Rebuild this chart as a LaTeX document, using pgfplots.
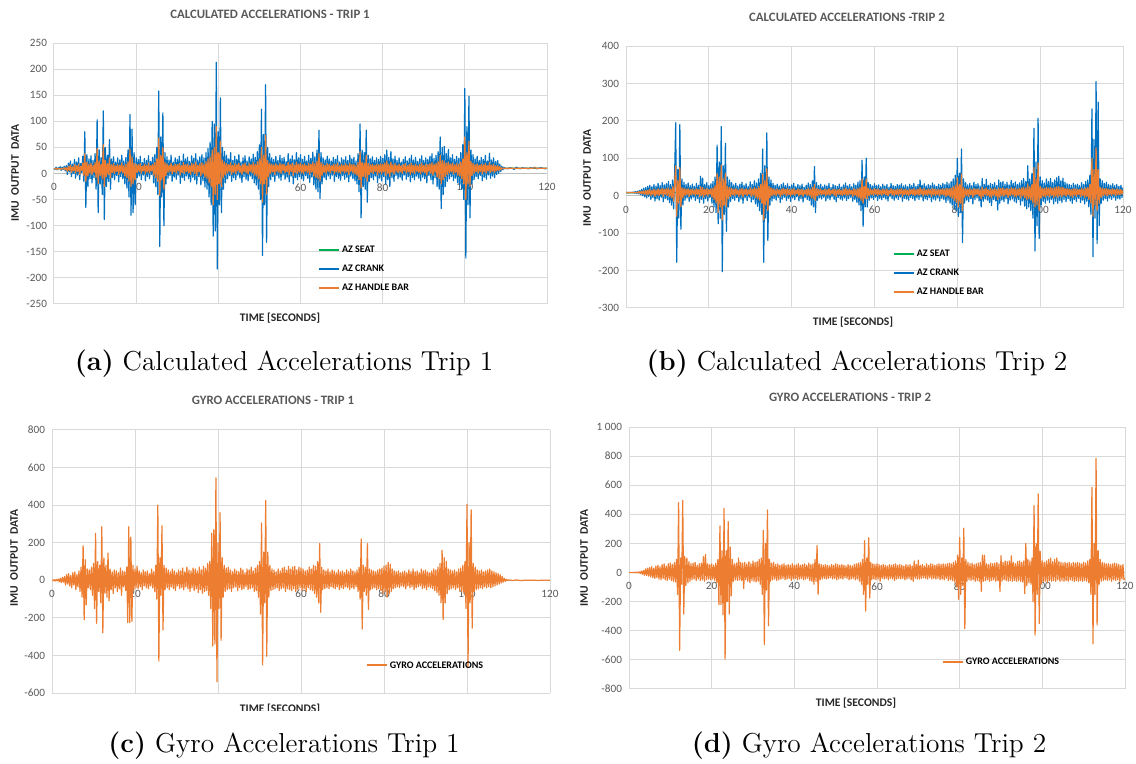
\documentclass[border=0pt]{standalone}
\usepackage{fontspec}
\usepackage{pgfplots}
\usepackage{pgfplotstable}
\pgfplotsset{compat=1.18}
\newfontfamily\carlito{Carlito}
\definecolor{xlblue}{HTML}{0070C0}
\definecolor{xlorange}{HTML}{ED7D31}
\definecolor{xlgreen}{HTML}{00B050}
\definecolor{gridgray}{HTML}{D9D9D9}
\definecolor{axisgray}{HTML}{BFBFBF}
\definecolor{tickgray}{HTML}{595959}

\pgfplotstableread{
t c h
0 10 9
0.25 8 9
0.5 12 10
0.75 7 8
1 11 10
1.25 9 9
1.5 13 10
1.75 6 8
2 12 10
2.25 8 9
2.5 14 11
2.75 5 7
3 15 11
3.25 -2 4
3.5 20 14
3.75 3 6
4 24 16
4.25 -6 2
4.5 18 13
4.75 0 5
5 27 17
5.25 -9 1
5.5 22 15
5.75 -3 4
6 30 18
6.25 -12 -2
6.5 19 14
6.75 2 6
7 33 20
7.25 -15 -4
7.5 80 38
7.75 -65 -15
8 36 22
8.25 -25 -5
8.5 28 18
8.75 -10 0
9 34 20
9.25 -18 -3
9.5 25 16
9.75 -8 2
10 38 21
10.25 -30 -8
10.5 103 48
10.75 -75 -20
11 45 24
11.25 -20 -4
11.5 30 18
11.75 -40 -10
12 120 55
12.25 -88 -25
12.5 50 25
12.75 -25 -6
13 35 19
13.25 -15 -2
13.5 65 30
13.75 -30 -8
14 28 17
14.25 -8 2
14.5 32 19
14.75 -12 0
15 22 15
15.25 -4 4
15.5 30 18
15.75 -16 -2
16 26 16
16.25 -6 3
16.5 35 20
16.75 -10 1
17 24 15
17.25 -20 -5
17.5 31 18
17.75 -28 -8
18 45 22
18.25 -45 -15
18.5 113 47
18.75 -80 -25
19 85 32
19.25 -75 -20
19.5 40 20
19.75 -60 -12
20 30 18
20.25 -8 2
20.5 27 17
20.75 -5 4
21 33 19
21.25 -12 0
21.5 21 14
21.75 -3 5
22 29 18
22.25 -14 -1
22.5 25 16
22.75 -6 3
23 34 20
23.25 -10 1
23.5 23 15
23.75 -2 5
24 31 18
24.25 -18 -3
24.5 36 21
24.75 -25 -8
25 50 28
25.25 -40 -15
25.5 158 68
25.75 -140 -42
26 70 35
26.25 -45 -12
26.5 116 50
26.75 -100 -30
27 40 22
27.25 -20 -4
27.5 32 19
27.75 -9 2
28 26 16
28.25 -4 4
28.5 35 20
28.75 -15 -1
29 22 15
29.25 -7 3
29.5 30 18
29.75 -11 1
30 27 17
30.25 -3 5
30.5 33 19
30.75 -19 -3
31 24 15
31.25 -8 2
31.5 37 21
31.75 -13 0
32 28 17
32.25 -5 4
32.5 31 18
32.75 -10 1
33 23 15
33.25 -16 -2
33.5 34 20
33.75 -7 3
34 29 18
34.25 -12 0
34.5 38 22
34.75 -20 -4
35 26 16
35.25 -6 3
35.5 32 19
35.75 -22 -5
36 36 21
36.25 -14 -1
36.5 30 18
36.75 -26 -7
37 40 23
37.25 -30 -10
37.5 48 28
37.75 -45 -18
38 60 32
38.25 -60 -25
38.5 100 45
38.75 -120 -60
39 95 50
39.25 -110 -40
39.5 213 90
39.75 -183 -50
40 80 40
40.25 -60 -20
40.5 145 62
40.75 -75 -25
41 50 26
41.25 -30 -8
41.5 42 22
41.75 -18 -3
42 35 19
42.25 -10 1
42.5 28 17
42.75 -4 4
43 40 21
43.25 -15 -2
43.5 25 16
43.75 -8 2
44 33 19
44.25 -12 0
44.5 27 17
44.75 -3 5
45 36 20
45.25 -9 2
45.5 22 15
45.75 -17 -2
46 30 18
46.25 -6 3
46.5 34 20
46.75 -11 1
47 24 15
47.25 -14 -1
47.5 32 19
47.75 -5 4
48 28 17
48.25 -10 1
48.5 37 21
48.75 -18 -3
49 31 18
49.25 -22 -5
49.5 42 23
49.75 -30 -10
50 55 28
50.25 -50 -20
50.5 123 50
50.75 -157 -55
51 75 35
51.25 -60 -20
51.5 170 73
51.75 -132 -40
52 50 25
52.25 -25 -6
52.5 38 20
52.75 -12 0
53 30 18
53.25 -6 3
53.5 27 17
53.75 -15 -2
54 33 19
54.25 -4 4
54.5 25 16
54.75 -9 2
55 35 20
55.25 -13 0
55.5 29 18
55.75 -3 5
56 31 18
56.25 -11 1
56.5 23 15
56.75 -7 3
57 38 21
57.25 -16 -2
57.5 28 17
57.75 -5 4
58 34 20
58.25 -20 -4
58.5 26 16
58.75 -8 2
59 40 22
59.25 -12 0
59.5 30 18
59.75 -6 3
60 36 20
60.25 -10 1
60.5 27 17
60.75 -14 -1
61 33 19
61.25 -4 4
61.5 24 15
61.75 -9 2
62 35 20
62.25 -17 -2
62.5 29 18
62.75 -7 3
63 41 22
63.25 -22 -5
63.5 32 19
63.75 -30 -8
64 45 24
64.25 -35 -10
64.5 83 38
64.75 -48 -15
65 40 21
65.25 -20 -4
65.5 30 18
65.75 -8 2
66 26 16
66.25 -12 0
66.5 33 19
66.75 -5 4
67 28 17
67.25 -10 1
67.5 24 15
67.75 -3 5
68 31 18
68.25 -15 -1
68.5 27 17
68.75 -6 3
69 34 20
69.25 -9 2
69.5 22 15
69.75 -13 0
70 30 18
70.25 -4 4
70.5 26 16
70.75 -11 1
71 32 19
71.25 -7 3
71.5 25 16
71.75 -16 -2
72 35 20
72.25 -5 4
72.5 28 17
72.75 -10 1
73 31 18
73.25 -14 -1
73.5 24 15
73.75 -20 -4
74 38 21
74.25 -35 -12
74.5 95 42
74.75 -85 -28
75 45 22
75.25 -25 -6
75.5 40 20
75.75 -30 -8
76 83 35
76.25 -55 -15
76.5 35 19
76.75 -15 -2
77 28 17
77.25 -8 2
77.5 32 18
77.75 -12 0
78 25 16
78.25 -5 4
78.5 30 18
78.75 -18 -3
79 27 17
79.25 -9 2
79.5 33 19
79.75 -14 -1
80 29 18
80.25 -6 3
80.5 36 20
80.75 -20 -4
81 45 24
81.25 -12 0
81.5 31 18
81.75 -25 -6
82 42 22
82.25 -8 2
82.5 28 17
82.75 -15 -2
83 33 19
83.25 -4 4
83.5 25 16
83.75 -10 1
84 30 18
84.25 -7 3
84.5 22 15
84.75 -13 0
85 27 17
85.25 -3 5
85.5 32 19
85.75 -11 1
86 24 15
86.25 -6 3
86.5 29 18
86.75 -16 -2
87 35 20
87.25 -8 2
87.5 26 16
87.75 -12 0
88 31 18
88.25 -5 4
88.5 23 15
88.75 -9 2
89 28 17
89.25 -14 -1
89.5 34 20
89.75 -7 3
90 25 16
90.25 -10 1
90.5 30 18
90.75 -18 -3
91 27 17
91.25 -4 4
91.5 33 19
91.75 -12 0
92 38 21
92.25 -20 -4
92.5 29 18
92.75 -8 2
93 35 20
93.25 -25 -7
93.5 42 23
93.75 -30 -10
94 70 35
94.25 -67 -20
94.5 50 25
94.75 -40 -12
95 52 24
95.25 -25 -6
95.5 38 20
95.75 -15 -2
96 46 22
96.25 -10 1
96.5 30 18
96.75 -6 3
97 36 20
97.25 -14 -1
97.5 27 17
97.75 -9 2
98 33 19
98.25 -18 -3
98.5 29 18
98.75 -22 -5
99 40 22
99.25 -30 -10
99.5 55 28
99.75 -50 -20
100 163 70
100.25 -162 -50
100.5 90 40
100.75 -60 -20
101 148 62
101.25 -85 -25
101.5 45 23
101.75 -20 -4
102 36 20
102.25 -12 0
102.5 28 17
102.75 -6 3
103 33 19
103.25 -10 1
103.5 25 16
103.75 -4 4
104 31 18
104.25 -14 -1
104.5 27 17
104.75 -7 3
105 35 20
105.25 -11 1
105.5 24 15
105.75 -3 5
106 39 21
106.25 -9 2
106.5 26 16
106.75 -5 4
107 30 18
107.25 -8 2
107.5 23 15
107.75 -2 5
108 25 15
108.25 0 6
108.5 18 13
108.75 4 7
109 14 11
109.25 7 9
109.5 12 10
109.75 9 10
110 10 10
110.5 9 10
111 11 10
111.5 10 10
112 8 10
112.5 12 10
113 10 10
113.5 9 10
114 11 10
114.5 10 10
115 10 10
115.5 9 10
116 11 10
116.5 10 10
117 12 11
117.5 9 10
118 10 10
118.5 11 10
119 10 10
119.5 9 10
120 10 10
}\tabA

\pgfplotstableread{
t s
0 9
10 9
20 10
30 9
40 10
50 9
60 10
70 9
80 10
90 9
100 10
110 10
120 10
}\seatA

\pgfplotstableread{
t c h
0 8 8
0.25 9 9
0.5 8 8
0.75 9 9
1 8 8
1.25 9 9
1.5 8 8
1.75 10 9
2 7 8
2.25 11 9
2.5 6 8
2.75 12 10
3 5 7
3.25 14 11
3.5 3 6
3.75 17 12
4 0 5
4.25 20 13
4.5 -3 4
4.75 22 14
5 -6 2
5.25 25 15
5.5 -2 4
5.75 28 17
6 -10 0
6.25 24 15
6.5 -5 3
6.75 30 18
7 -14 -2
7.25 26 16
7.5 -8 2
7.75 33 19
8 -12 0
8.25 27 17
8.5 -4 4
8.75 35 20
9 -16 -2
9.25 29 18
9.5 -7 3
9.75 32 19
10 -11 1
10.25 38 21
10.5 -18 -3
10.75 30 18
11 -25 -6
11.25 42 24
11.5 -35 -15
11.75 60 35
12 195 80
12.25 -178 -55
12.5 70 40
12.75 -60 -20
13 190 75
13.25 -90 -30
13.5 45 22
13.75 -25 -6
14 36 20
14.25 -12 0
14.5 30 18
14.75 -6 3
15 34 19
15.25 -15 -2
15.5 27 17
15.75 -9 2
16 31 18
16.25 -4 4
16.5 25 16
16.75 -13 0
17 33 19
17.25 -7 3
17.5 28 17
17.75 -18 -3
18 52 24
18.25 -10 1
18.5 47 22
18.75 -20 -4
19 30 18
19.25 -8 2
19.5 35 20
19.75 -14 -1
20 27 17
20.25 -5 4
20.5 32 19
20.75 -20 -4
21 38 21
21.25 -30 -10
21.5 50 28
21.75 -45 -20
22 135 60
22.25 -75 -45
22.5 90 50
22.75 -60 -30
23 185 82
23.25 -203 -65
23.5 80 45
23.75 -50 -25
24 140 60
24.25 -95 -30
24.5 50 25
24.75 -30 -8
25 42 22
25.25 -15 -2
25.5 35 20
25.75 -8 2
26 29 18
26.25 -12 0
26.5 33 19
26.75 -5 4
27 26 16
27.25 -16 -2
27.5 31 18
27.75 -9 2
28 36 20
28.25 -20 -4
28.5 28 17
28.75 -6 3
29 32 19
29.25 -13 0
29.5 25 16
29.75 -4 4
30 37 21
30.25 -17 -2
30.5 30 18
30.75 -10 1
31 40 22
31.25 -22 -5
31.5 34 20
31.75 -28 -8
32 45 24
32.25 -40 -12
32.5 60 30
32.75 -50 -20
33 125 58
33.25 -178 -65
33.5 80 40
33.75 -60 -25
34 168 72
34.25 -120 -40
34.5 50 25
34.75 -25 -6
35 42 22
35.25 -14 -1
35.5 33 19
35.75 -8 2
36 28 17
36.25 -12 0
36.5 31 18
36.75 -5 4
37 26 16
37.25 -18 -3
37.5 30 18
37.75 -9 2
38 34 20
38.25 -4 4
38.5 27 17
38.75 -13 0
39 32 19
39.25 -7 3
39.5 25 16
39.75 -15 -2
40 29 18
40.25 -6 3
40.5 33 19
40.75 -11 1
41 24 15
41.25 -3 5
41.5 30 18
41.75 -14 -1
42 27 17
42.25 -8 2
42.5 31 18
42.75 -17 -2
43 23 15
43.25 -5 4
43.5 28 17
43.75 -10 1
44 34 20
44.25 -13 0
44.5 30 18
44.75 -25 -6
45 40 22
45.25 -30 -8
45.5 78 30
45.75 -45 -12
46 35 19
46.25 -12 0
46.5 27 17
46.75 -6 3
47 31 18
47.25 -9 2
47.5 24 15
47.75 -4 4
48 29 18
48.25 -14 -1
48.5 26 16
48.75 -7 3
49 33 19
49.25 -11 1
49.5 22 15
49.75 -3 5
50 30 18
50.25 -10 1
50.5 27 17
50.75 -16 -2
51 25 16
51.25 -5 4
51.5 31 18
51.75 -9 2
52 23 15
52.25 -12 0
52.5 29 18
52.75 -6 3
53 34 20
53.25 -13 0
53.5 26 16
53.75 -8 2
54 30 18
54.25 -4 4
54.5 24 15
54.75 -15 -2
55 32 19
55.25 -10 1
55.5 28 17
55.75 -18 -3
56 36 20
56.25 -25 -6
56.5 40 22
56.75 -40 -12
57 95 45
57.25 -82 -20
57.5 50 25
57.75 -30 -8
58 100 45
58.25 -30 -8
58.5 35 19
58.75 -12 0
59 30 18
59.25 -6 3
59.5 26 16
59.75 -10 1
60 32 19
60.25 -4 4
60.5 27 17
60.75 -13 0
61 29 18
61.25 -7 3
61.5 24 15
61.75 -11 1
62 31 18
62.25 -5 4
62.5 26 16
62.75 -9 2
63 30 18
63.25 -14 -1
63.5 23 15
63.75 -3 5
64 33 19
64.25 -8 2
64.5 27 17
64.75 -12 0
65 25 16
65.25 -6 3
65.5 30 18
65.75 -10 1
66 28 17
66.25 -4 4
66.5 32 19
66.75 -15 -2
67 26 16
67.25 -7 3
67.5 29 18
67.75 -9 2
68 24 15
68.25 -12 0
68.5 31 18
68.75 -5 4
69 27 17
69.25 -8 2
69.5 33 19
69.75 -13 0
70 25 16
70.25 -6 3
70.5 30 18
70.75 -10 1
71 42 22
71.25 -4 4
71.5 28 17
71.75 -14 -1
72 32 19
72.25 -8 2
72.5 26 16
72.75 -11 1
73 30 18
73.25 -5 4
73.5 27 17
73.75 -16 -2
74 34 20
74.25 -9 2
74.5 29 18
74.75 -12 0
75 25 16
75.25 -6 3
75.5 31 18
75.75 -14 -1
76 28 17
76.25 -7 3
76.5 33 19
76.75 -10 1
77 30 18
77.25 -18 -3
77.5 36 20
77.75 -12 0
78 32 19
78.25 -20 -4
78.5 38 21
78.75 -25 -7
79 45 24
79.25 -35 -12
79.5 55 28
79.75 -40 -18
80 100 48
80.25 -55 -30
80.5 60 30
80.75 -45 -20
81 125 58
81.25 -125 -40
81.5 45 22
81.75 -20 -4
82 35 19
82.25 -12 0
82.5 29 18
82.75 -16 -2
83 33 19
83.25 -8 2
83.5 27 17
83.75 -22 -5
84 36 20
84.25 -10 1
84.5 30 18
84.75 -6 3
85 32 19
85.25 -14 -1
85.5 26 16
85.75 -30 -8
86 46 23
86.25 -15 -2
86.5 30 18
86.75 -9 2
87 44 21
87.25 -12 0
87.5 28 17
87.75 -18 -3
88 33 19
88.25 -26 -6
88.5 30 18
88.75 -10 1
89 35 20
89.25 -14 -1
89.5 27 17
89.75 -38 -10
90 42 21
90.25 -20 -4
90.5 36 20
90.75 -12 0
91 38 21
91.25 -16 -2
91.5 31 18
91.75 -8 2
92 36 20
92.25 -22 -5
92.5 29 18
92.75 -12 0
93 41 22
93.25 -9 2
93.5 33 19
93.75 -15 -2
94 37 21
94.25 -19 -4
94.5 30 18
94.75 -10 1
95 34 20
95.25 -25 -6
95.5 40 21
95.75 -14 -1
96 46 23
96.25 -28 -6
96.5 38 21
96.75 -35 -10
97 80 32
97.25 -30 -8
97.5 45 24
97.75 -40 -12
98 60 30
98.25 -60 -20
98.5 180 75
98.75 -148 -30
99 90 45
99.25 -80 -25
99.5 207 88
99.75 -115 -40
100 50 25
100.25 -25 -6
100.5 40 21
100.75 -15 -2
101 34 20
101.25 -20 -4
101.5 45 23
101.75 -12 0
102 38 21
102.25 -18 -3
102.5 46 23
102.75 -10 1
103 35 20
103.25 -22 -5
103.5 42 22
103.75 -15 -2
104 48 24
104.25 -20 -4
104.5 52 25
104.75 -13 0
105 40 22
105.25 -18 -3
105.5 47 23
105.75 -10 1
106 36 20
106.25 -16 -2
106.5 32 19
106.75 -8 2
107 30 18
107.25 -14 -1
107.5 28 17
107.75 -20 -4
108 33 19
108.25 -10 1
108.5 29 18
108.75 -16 -2
109 31 18
109.25 -7 3
109.5 27 17
109.75 -18 -3
110 35 20
110.25 -12 0
110.5 30 18
110.75 -22 -5
111 38 21
111.25 -15 -2
111.5 42 22
111.75 -30 -10
112 55 30
112.25 -50 -20
112.5 232 100
112.75 -163 -55
113 150 70
113.25 -60 -25
113.5 305 128
113.75 -128 -40
114 250 70
114.25 -80 -20
114.5 45 22
114.75 -20 -4
115 40 21
115.25 -12 0
115.5 33 19
115.75 -8 2
116 36 20
116.25 -14 -1
116.5 30 18
116.75 -6 3
117 28 17
117.25 -10 1
117.5 32 19
117.75 -4 4
118 27 17
118.25 -12 0
118.5 30 18
118.75 -7 3
119 25 16
119.25 -9 2
119.5 28 17
119.75 -5 4
120 22 15
}\tabB

\pgfplotstableread{
t s
0 8
10 9
20 8
30 9
40 8
50 9
60 8
70 9
80 8
90 9
100 8
110 9
120 8
}\seatB

\pgfplotstableread{
t g
0 0
0.25 -2
0.5 3
0.75 -4
1 5
1.25 -3
1.5 6
1.75 -8
2 10
2.25 -12
2.5 15
2.75 -10
3 20
3.25 -25
3.5 30
3.75 -20
4 35
4.25 -30
4.5 25
4.75 -40
5 40
5.25 -25
5.5 45
5.75 -50
6 30
6.25 -35
6.5 50
6.75 -60
7 70
7.25 -90
7.5 185
7.75 -210
8 110
8.25 -130
8.5 60
8.75 -40
9 55
9.25 -50
9.5 70
9.75 -80
10 90
10.25 -150
10.5 250
10.75 -230
11 100
11.25 -60
11.5 80
11.75 -120
12 285
12.25 -280
12.5 120
12.75 -70
13 80
13.25 -90
13.5 145
13.75 -110
14 60
14.25 -50
14.5 45
14.75 -70
15 55
15.25 -40
15.5 50
15.75 -60
16 40
16.25 -45
16.5 65
16.75 -80
17 50
17.25 -35
17.5 45
17.75 -55
18 70
18.25 -225
18.5 285
18.75 -225
19 230
19.25 -220
19.5 80
19.75 -50
20 60
20.25 -40
20.5 75
20.75 -45
21 50
21.25 -35
21.5 40
21.75 -50
22 55
22.25 -30
22.5 45
22.75 -40
23 50
23.25 -45
23.5 35
23.75 -30
24 60
24.25 -40
24.5 45
24.75 -60
25 80
25.25 -100
25.5 400
25.75 -430
26 120
26.25 -80
26.5 290
26.75 -265
27 80
27.25 -50
27.5 65
27.75 -40
28 55
28.25 -50
28.5 45
28.75 -35
29 60
29.25 -45
29.5 50
29.75 -55
30 40
30.25 -30
30.5 55
30.75 -45
31 50
31.25 -40
31.5 65
31.75 -50
32 45
32.25 -35
32.5 70
32.75 -45
33 55
33.25 -60
33.5 50
33.75 -40
34 65
34.25 -55
34.5 60
34.75 -45
35 50
35.25 -65
35.5 70
35.75 -50
36 55
36.25 -70
36.5 75
36.75 -60
37 65
37.25 -55
37.5 90
37.75 -80
38 100
38.25 -150
38.5 250
38.75 -350
39 270
39.25 -340
39.5 545
39.75 -540
40 200
40.25 -150
40.5 360
40.75 -320
41 120
41.25 -90
41.5 80
41.75 -60
42 65
42.25 -50
42.5 70
42.75 -45
43 55
43.25 -60
43.5 45
43.75 -40
44 60
44.25 -35
44.5 50
44.75 -55
45 45
45.25 -40
45.5 65
45.75 -50
46 55
46.25 -45
46.5 40
46.75 -35
47 60
47.25 -50
47.5 55
47.75 -45
48 70
48.25 -40
48.5 50
48.75 -60
49 65
49.25 -55
49.5 80
49.75 -90
50 100
50.25 -180
50.5 305
50.75 -450
51 150
51.25 -120
51.5 425
51.75 -405
52 150
52.25 -90
52.5 80
52.75 -55
53 60
53.25 -50
53.5 55
53.75 -45
54 45
54.25 -40
54.5 60
54.75 -55
55 50
55.25 -45
55.5 65
55.75 -40
56 70
56.25 -60
56.5 55
56.75 -45
57 75
57.25 -50
57.5 60
57.75 -55
58 70
58.25 -45
58.5 75
58.75 -60
59 55
59.25 -50
59.5 70
59.75 -40
60 65
60.25 -55
60.5 60
60.75 -45
61 50
61.25 -60
61.5 55
61.75 -40
62 70
62.25 -50
62.5 60
62.75 -55
63 80
63.25 -70
63.5 75
63.75 -90
64 100
64.25 -120
64.5 195
64.75 -170
65 70
65.25 -50
65.5 55
65.75 -45
66 50
66.25 -40
66.5 60
66.75 -45
67 45
67.25 -35
67.5 55
67.75 -40
68 50
68.25 -45
68.5 40
68.75 -35
69 55
69.25 -50
69.5 45
69.75 -40
70 50
70.25 -45
70.5 40
70.75 -35
71 55
71.25 -40
71.5 45
71.75 -50
72 60
72.25 -40
72.5 50
72.75 -45
73 45
73.25 -35
73.5 55
73.75 -60
74 70
74.25 -100
74.5 220
74.75 -260
75 80
75.25 -60
75.5 70
75.75 -80
76 195
76.25 -155
76.5 60
76.75 -50
77 55
77.25 -45
77.5 50
77.75 -40
78 45
78.25 -50
78.5 55
78.75 -45
79 60
79.25 -55
79.5 65
79.75 -70
80 75
80.25 -60
80.5 80
80.75 -90
81 95
81.25 -70
81.5 85
81.75 -60
82 60
82.25 -45
82.5 50
82.75 -40
83 45
83.25 -35
83.5 50
83.75 -40
84 40
84.25 -30
84.5 45
84.75 -35
85 50
85.25 -45
85.5 40
85.75 -30
86 55
86.25 -40
86.5 45
86.75 -35
87 60
87.25 -50
87.5 45
87.75 -40
88 50
88.25 -35
88.5 40
88.75 -30
89 60
89.25 -45
89.5 50
89.75 -40
90 55
90.25 -50
90.5 45
90.75 -35
91 40
91.25 -40
91.5 50
91.75 -45
92 60
92.25 -55
92.5 55
92.75 -65
93 70
93.25 -80
93.5 90
93.75 -120
94 160
94.25 -210
94.5 120
94.75 -120
95 100
95.25 -70
95.5 60
95.75 -50
96 55
96.25 -45
96.5 50
96.75 -40
97 55
97.25 -50
97.5 45
97.75 -40
98 60
98.25 -55
98.5 65
98.75 -60
99 80
99.25 -70
99.5 100
99.75 -150
100 405
100.25 -460
100.5 200
100.75 -120
101 375
101.25 -255
101.5 90
101.75 -60
102 70
102.25 -50
102.5 55
102.75 -45
103 50
103.25 -40
103.5 55
103.75 -45
104 45
104.25 -35
104.5 50
104.75 -40
105 55
105.25 -35
105.5 60
105.75 -40
106 50
106.25 -35
106.5 45
106.75 -30
107 40
107.25 -25
107.5 35
107.75 -20
108 30
108.25 -15
108.5 20
108.75 -10
109 10
109.25 -5
109.5 5
109.75 -2
110 2
111 -1
112 2
113 -2
114 1
115 0
116 1
117 -1
118 0
119 1
120 0
}\tabC

\pgfplotstableread{
t g
0 0
0.25 0
0.5 1
0.75 0
1 1
1.25 -1
1.5 2
1.75 -2
2 3
2.25 -3
2.5 5
2.75 -6
3 10
3.25 -12
3.5 15
3.75 -18
4 25
4.25 -20
4.5 30
4.75 -25
5 35
5.25 -30
5.5 40
5.75 -35
6 30
6.25 -40
6.5 45
6.75 -35
7 50
7.25 -45
7.5 40
7.75 -50
8 55
8.25 -40
8.5 60
8.75 -50
9 45
9.25 -55
9.5 60
9.75 -45
10 65
10.25 -55
10.5 55
10.75 -60
11 70
11.25 -65
11.5 90
11.75 -150
12 480
12.25 -535
12.5 100
12.75 -80
13 495
13.25 -285
13.5 110
13.75 -90
14 100
14.25 -70
14.5 75
14.75 -60
15 60
15.25 -50
15.5 65
15.75 -45
16 70
16.25 -55
16.5 50
16.75 -45
17 60
17.25 -55
17.5 65
17.75 -50
18 110
18.25 -60
18.5 125
18.75 -50
19 60
19.25 -45
19.5 55
19.75 -50
20 60
20.25 -45
20.5 50
20.75 -55
21 65
21.25 -70
21.5 90
21.75 -220
22 320
22.25 -220
22.5 150
22.75 -290
23 440
23.25 -595
23.5 150
23.75 -200
24 350
24.25 -285
24.5 175
24.75 -160
25 90
25.25 -60
25.5 60
25.75 -50
26 65
26.25 -55
26.5 100
26.75 -50
27 70
27.25 -55
27.5 65
27.75 -110
28 70
28.25 -50
28.5 60
28.75 -60
29 75
29.25 -70
29.5 60
29.75 -55
30 80
30.25 -60
30.5 70
30.75 -65
31 75
31.25 -60
31.5 90
31.75 -80
32 100
32.25 -150
32.5 290
32.75 -495
33 200
33.25 -120
33.5 430
33.75 -365
34 90
34.25 -60
34.5 65
34.75 -50
35 70
35.25 -45
35.5 55
35.75 -55
36 60
36.25 -50
36.5 50
36.75 -45
37 55
37.25 -40
37.5 60
37.75 -50
38 50
38.25 -45
38.5 55
38.75 -40
39 50
39.25 -55
39.5 60
39.75 -45
40 50
40.25 -40
40.5 55
40.75 -50
41 60
41.25 -45
41.5 50
41.75 -40
42 55
42.25 -50
42.5 60
42.75 -45
43 50
43.25 -40
43.5 65
43.75 -55
44 55
44.25 -60
44.5 60
44.75 -80
45 90
45.25 -60
45.5 185
45.75 -150
46 60
46.25 -50
46.5 55
46.75 -45
47 50
47.25 -40
47.5 55
47.75 -45
48 50
48.25 -40
48.5 45
48.75 -35
49 55
49.25 -45
49.5 50
49.75 -40
50 60
50.25 -50
50.5 55
50.75 -45
51 50
51.25 -40
51.5 55
51.75 -45
52 50
52.25 -35
52.5 45
52.75 -40
53 55
53.25 -50
53.5 50
53.75 -45
54 45
54.25 -40
54.5 55
54.75 -50
55 60
55.25 -45
55.5 65
55.75 -60
56 70
56.25 -80
56.5 90
56.75 -150
57 220
57.25 -265
57.5 100
57.75 -80
58 240
58.25 -175
58.5 70
58.75 -50
59 60
59.25 -45
59.5 55
59.75 -50
60 60
60.25 -45
60.5 55
60.75 -60
61 50
61.25 -40
61.5 55
61.75 -45
62 50
62.25 -40
62.5 45
62.75 -50
63 55
63.25 -40
63.5 50
63.75 -45
64 55
64.25 -55
64.5 60
64.75 -45
65 50
65.25 -40
65.5 55
65.75 -45
66 50
66.25 -40
66.5 45
66.75 -50
67 55
67.25 -45
67.5 50
67.75 -40
68 55
68.25 -50
68.5 45
68.75 -60
69 80
69.25 -40
69.5 55
69.75 -45
70 85
70.25 -45
70.5 50
70.75 -40
71 55
71.25 -35
71.5 45
71.75 -40
72 60
72.25 -45
72.5 50
72.75 -35
73 60
73.25 -45
73.5 55
73.75 -40
74 50
74.25 -45
74.5 55
74.75 -40
75 60
75.25 -50
75.5 55
75.75 -45
76 60
76.25 -50
76.5 55
76.75 -40
77 60
77.25 -55
77.5 65
77.75 -50
78 60
78.25 -55
78.5 70
78.75 -65
79 80
79.25 -100
79.5 120
79.75 -185
80 240
80.25 -150
80.5 100
80.75 -90
81 305
81.25 -385
81.5 90
81.75 -60
82 70
82.25 -50
82.5 60
82.75 -55
83 65
83.25 -50
83.5 55
83.75 -60
84 60
84.25 -55
84.5 65
84.75 -60
85 70
85.25 -130
85.5 120
85.75 -60
86 120
86.25 -55
86.5 60
86.75 -50
87 55
87.25 -60
87.5 65
87.75 -55
88 60
88.25 -50
88.5 65
88.75 -60
89 70
89.25 -55
89.5 60
89.75 -130
90 115
90.25 -60
90.5 70
90.75 -50
91 80
91.25 -55
91.5 75
91.75 -60
92 80
92.25 -55
92.5 115
92.75 -60
93 70
93.25 -55
93.5 60
93.75 -60
94 75
94.25 -55
94.5 80
94.75 -60
95 70
95.25 -65
95.5 80
95.75 -145
96 200
96.25 -90
96.5 90
96.75 -70
97 80
97.25 -80
97.5 100
97.75 -200
98 460
98.25 -430
98.5 200
98.75 -150
99 540
99.25 -350
99.5 145
99.75 -80
100 80
100.25 -60
100.5 70
100.75 -60
101 80
101.25 -70
101.5 90
101.75 -55
102 100
102.25 -60
102.5 75
102.75 -55
103 90
103.25 -60
103.5 100
103.75 -50
104 75
104.25 -60
104.5 70
104.75 -55
105 65
105.25 -60
105.5 70
105.75 -55
106 65
106.25 -60
106.5 70
106.75 -50
107 60
107.25 -55
107.5 70
107.75 -60
108 65
108.25 -55
108.5 70
108.75 -60
109 65
109.25 -55
109.5 60
109.75 -60
110 70
110.25 -55
110.5 65
110.75 -60
111 80
111.25 -70
111.5 90
111.75 -150
112 585
112.25 -490
112.5 200
112.75 -150
113 785
113.25 -360
113.5 150
113.75 -80
114 90
114.25 -60
114.5 70
114.75 -55
115 65
115.25 -50
115.5 60
115.75 -55
116 60
116.25 -50
116.5 55
116.75 -60
117 60
117.25 -50
117.5 65
117.75 -55
118 60
118.25 -50
118.5 55
118.75 -60
119 50
119.25 -45
119.5 55
119.75 -50
120 -40
}\tabD

\tikzset{
  ctitle/.style={font=\carlito\bfseries\fontsize{6.4}{7}\selectfont, text=tickgray},
  clab/.style={font=\carlito\bfseries\fontsize{5.8}{6}\selectfont, text=black!85},
  capt/.style={font=\fontsize{13.7}{16}\selectfont},
}
\pgfplotsset{
  legend image code/.code={\draw[#1] (0pt,0pt) -- (10pt,0pt);},
  myaxis/.style={
    scale only axis, xmin=0, xmax=120, xtick={0,20,...,120}, enlargelimits=false,
    axis x line=middle, axis y line=left,
    axis line style={-, draw=gridgray, line width=0.5pt},
    x axis line style={draw=axisgray},
    hide obscured x ticks=false, hide obscured y ticks=false,
    major tick length=0pt,
    grid=major, grid style={draw=gridgray, line width=0.5pt},
    ticklabel style={font=\carlito\fontsize{5.6}{6}\selectfont, text=tickgray},
    /pgf/number format/assume math mode=true,
    xticklabel style={yshift=-1.5pt},
    scaled ticks=false,
    legend cell align=left,
    legend style={anchor=north west, draw=none, fill=none, inner sep=0pt, outer sep=0pt,
      font=\carlito\bfseries\fontsize{5}{5}\selectfont,
      row sep=5pt, column sep=1pt,
      nodes={inner sep=0pt, text height=3.6pt, text depth=0.9pt}},
  },
}

\begin{document}
\begin{tikzpicture}
\useasboundingbox (0pt,0pt) rectangle (568pt,-382pt);

% (a)
\begin{axis}[myaxis, at={(27pt,-152pt)}, anchor=south west, width=246.5pt, height=130.5pt,
  ymin=-250, ymax=250, ytick={-250,-200,...,250},
  legend style={at={(0.5355,0.225)}}]
\addplot[draw=xlgreen, line width=0.6pt, line join=round, forget plot] table[x=t,y=s] {\seatA};
\addplot[draw=xlblue, line width=0.6pt, line join=round, forget plot] table[x=t,y=c] {\tabA};
\addplot[draw=xlorange, line width=0.6pt, line join=round, forget plot] table[x=t,y=h] {\tabA};
\addlegendimage{xlgreen, line width=1pt}
\addlegendentry{AZ SEAT}
\addlegendimage{xlblue, line width=1pt}
\addlegendentry{AZ CRANK}
\addlegendimage{xlorange, line width=1pt}
\addlegendentry{AZ HANDLE BAR}
\end{axis}

% (b)
\begin{axis}[myaxis, at={(313pt,-154pt)}, anchor=south west, width=248.5pt, height=131pt,
  ymin=-300, ymax=400, ytick={-300,-200,...,400},
  legend style={at={(0.537,0.225)}}]
\addplot[draw=xlgreen, line width=0.6pt, line join=round, forget plot] table[x=t,y=s] {\seatB};
\addplot[draw=xlblue, line width=0.6pt, line join=round, forget plot] table[x=t,y=c] {\tabB};
\addplot[draw=xlorange, line width=0.6pt, line join=round, forget plot] table[x=t,y=h] {\tabB};
\addlegendimage{xlgreen, line width=1pt}
\addlegendentry{AZ SEAT}
\addlegendimage{xlblue, line width=1pt}
\addlegendentry{AZ CRANK}
\addlegendimage{xlorange, line width=1pt}
\addlegendentry{AZ HANDLE BAR}
\end{axis}

% (c)
\begin{axis}[myaxis, at={(26pt,-346.5pt)}, anchor=south west, width=249pt, height=131.5pt,
  ymin=-600, ymax=800, ytick={-600,-400,...,800},
  legend style={at={(0.6305,0.1217)}}]
\addplot[draw=xlorange, line width=0.6pt, line join=round, forget plot] table[x=t,y=g] {\tabC};
\addlegendimage{xlorange, line width=1pt}
\addlegendentry{GYRO ACCELERATIONS}
\end{axis}

% (d)
\begin{axis}[myaxis, at={(314.5pt,-344.5pt)}, anchor=south west, width=248pt, height=131pt,
  ymin=-800, ymax=1000, ytick={-800,-600,...,1000},
  /pgf/number format/1000 sep={\ },
  legend style={at={(0.631,0.122)}}]
\addplot[draw=xlorange, line width=0.6pt, line join=round, forget plot] table[x=t,y=g] {\tabD};
\addlegendimage{xlorange, line width=1pt}
\addlegendentry{GYRO ACCELERATIONS}
\end{axis}

% titles
\node[ctitle] at (135pt,-7pt) {CALCULATED ACCELERATIONS - TRIP 1};
\node[ctitle] at (423.5pt,-8.5pt) {CALCULATED ACCELERATIONS -TRIP 2};
\node[ctitle] at (136.5pt,-200pt) {GYRO ACCELERATIONS - TRIP 1};
\node[ctitle] at (425pt,-198.5pt) {GYRO ACCELERATIONS - TRIP 2};

% x labels
\node[clab] at (140pt,-159pt) {TIME [SECONDS]};
\node[clab] at (426.5pt,-161pt) {TIME [SECONDS]};
\begin{scope}
\clip (0pt,-340pt) rectangle (284pt,-355pt);
\node[clab] at (140pt,-354.5pt) {TIME [SECONDS]};
\end{scope}
\node[clab] at (428pt,-351.5pt) {TIME [SECONDS]};

% y labels
\node[clab, rotate=90] at (7.5pt,-86.5pt) {IMU~ OUTPUT~ DATA};
\node[clab, rotate=90] at (293.5pt,-89pt) {IMU~ OUTPUT~ DATA};
\node[clab, rotate=90] at (7pt,-279pt) {IMU~ OUTPUT~ DATA};
\node[clab, rotate=90] at (292pt,-279pt) {IMU~ OUTPUT~ DATA};

% captions
\node[capt] at (142pt,-182pt) {\textbf{(a)} Calculated Accelerations Trip 1};
\node[capt] at (428.5pt,-182pt) {\textbf{(b)} Calculated Accelerations Trip 2};
\node[capt] at (142pt,-373pt) {\textbf{(c)} Gyro Accelerations Trip 1};
\node[capt] at (434.5pt,-373pt) {\textbf{(d)} Gyro Accelerations Trip 2};
\end{tikzpicture}
\end{document}
